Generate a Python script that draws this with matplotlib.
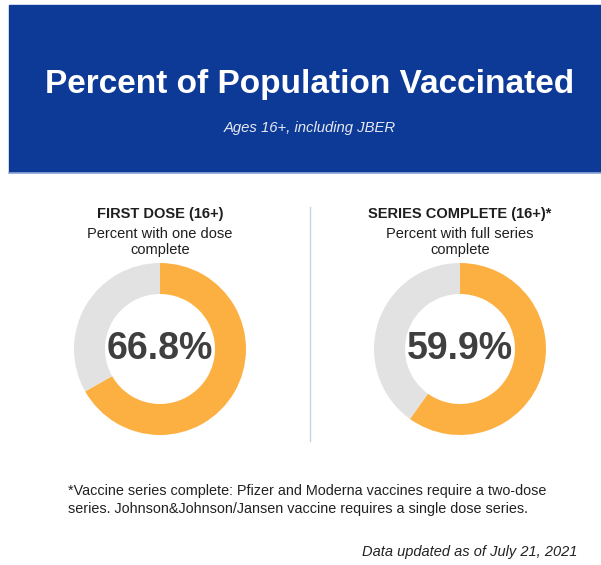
import matplotlib.pyplot as plt
from matplotlib.patches import Rectangle

plt.rcParams['font.family'] = ['Liberation Sans', 'DejaVu Sans']

# data
titles = ['FIRST DOSE (16+)', 'SERIES COMPLETE (16+)*']
subtitles = ['Percent with one dose\ncomplete', 'Percent with full series\ncomplete']
values = [66.8, 59.9]
centers_x = [160, 460]

W, H = 601, 565
fig = plt.figure(figsize=(W / 100, H / 100), dpi=100)
bg = fig.add_axes([0, 0, 1, 1])
bg.set_xlim(0, W)
bg.set_ylim(H, 0)
bg.axis('off')

# header banner
bg.add_patch(Rectangle((9, 5), W - 9, 167, color='#0D3A96', zorder=1))
bg.plot([9, W], [173, 173], color='#8FA8D8', lw=1.2)
bg.text(310, 85, 'Percent of Population Vaccinated', color='white', fontsize=24,
        fontweight='bold', ha='center', va='center')
bg.text(310, 128, 'Ages 16+, including JBER', color='#E6E9F2', fontsize=10.7,
        style='italic', ha='center', va='center')

# divider
bg.plot([310, 310], [207, 441], color='#C5D3E0', lw=1)

cy = 349
R = 86
for cx, t, s, v in zip(centers_x, titles, subtitles, values):
    bg.text(cx, 214, t, fontsize=10.5, fontweight='bold', color='#1E1E1E',
            ha='center', va='center')
    bg.text(cx, 242, s, fontsize=10.5, color='#1E1E1E', ha='center', va='center',
            linespacing=1.15)
    ax = fig.add_axes([(cx - R) / W, 1 - (cy + R) / H, 2 * R / W, 2 * R / H])
    ax.pie([v, 100 - v], colors=['#FDB042', '#E2E2E2'], startangle=90,
           counterclock=False, radius=1,
           wedgeprops=dict(width=31 / R, edgecolor='none'))
    ax.set_xlim(-1, 1)
    ax.set_ylim(-1, 1)
    ax.set_aspect('equal')
    ax.text(0, 0, f'{v}%', fontsize=27, fontweight='bold', color='#3F3F3F',
            ha='center', va='center')

bg.text(68, 500, '*Vaccine series complete: Pfizer and Moderna vaccines require a two-dose\n'
        'series. Johnson&Johnson/Jansen vaccine requires a single dose series.',
        fontsize=10.4, color='#222222', ha='left', va='center', linespacing=1.3)
bg.text(577, 552, 'Data updated as of July 21, 2021', fontsize=10.5, style='italic',
        color='#222222', ha='right', va='center')

fig.savefig('out.png', dpi=100)
